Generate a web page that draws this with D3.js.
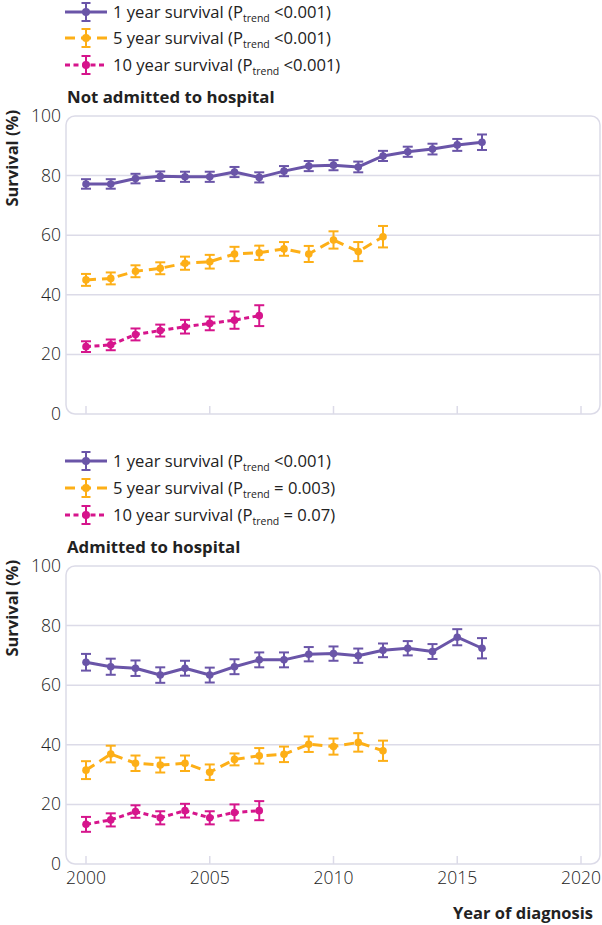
<!DOCTYPE html>
<html><head><meta charset="utf-8">
<script src="https://cdn.jsdelivr.net/npm/d3@7"></script>
<style>body{margin:0;background:#fff}svg{display:block}</style>
</head><body>
<svg id="c" width="602" height="925"></svg>
<script>
// ---- data ----
const years = [2000,2001,2002,2003,2004,2005,2006,2007,2008,2009,2010,2011,2012,2013,2014,2015,2016];
const xTicks = [2000,2005,2010,2015,2020];
const yTicks = [0,20,40,60,80,100];
const seriesNames = ["1 year survival", "5 year survival", "10 year survival"];

// Not admitted to hospital
const notAdm1y   = [77.2,77.2,79.0,79.8,79.6,79.6,81.2,79.4,81.5,83.2,83.5,82.9,86.6,88.0,88.9,90.3,91.2];
const notAdm1yCI = [1.6,1.6,1.6,1.6,1.7,1.7,1.7,1.7,1.7,1.7,1.7,1.8,1.7,1.7,1.8,2.0,2.6];
const notAdm5y   = [45.0,45.5,47.9,48.9,50.6,51.1,53.7,54.1,55.4,53.7,58.4,54.5,59.5];
const notAdm5yCI = [2.0,2.0,2.0,2.0,2.2,2.3,2.4,2.4,2.3,2.7,2.9,3.2,3.6];
const notAdm10y   = [22.6,23.2,26.7,28.0,29.3,30.4,31.5,33.0];
const notAdm10yCI = [1.8,1.8,2.0,2.0,2.3,2.3,2.9,3.5];
const notAdmP = ["<0.001","<0.001","<0.001"];

// Admitted to hospital
const adm1y   = [67.7,66.2,65.7,63.4,65.7,63.4,66.2,68.5,68.5,70.4,70.6,69.9,71.7,72.4,71.3,76.1,72.4];
const adm1yCI = [2.8,2.7,2.6,2.6,2.5,2.5,2.5,2.5,2.5,2.4,2.4,2.4,2.3,2.4,2.5,2.7,3.4];
const adm5y   = [31.5,36.9,33.8,33.2,33.8,30.8,35.1,36.3,36.8,40.2,39.4,40.8,38.0];
const adm5yCI = [3.0,2.8,2.6,2.5,2.6,2.6,2.0,2.6,2.6,2.6,2.7,3.1,3.4];
const adm10y   = [13.3,14.8,17.6,15.5,17.9,15.5,17.3,17.9];
const adm10yCI = [2.5,2.2,2.1,2.2,2.3,2.2,2.7,3.2];
const admP = ["<0.001","= 0.003","= 0.07"];

// ---- styles ----
const colors = ["#6a55a8","#fdaf17","#d6158c"];
const dashes = [null, "10,6", "5,3.5"];
const gridColor = "#dcdbe8";
const FONT = "'Open Sans', Lato, sans-serif";

const svg = d3.select("#c");

const x = d3.scaleLinear().domain([2000,2020]).range([86,581]);

function panel(opt){
  const y = d3.scaleLinear().domain([0,100]).range([opt.y0, opt.y0 - 298]);
  const g = svg.append("g");
  // legend
  opt.legendY.forEach((ly,i)=>{
    const lg = g.append("g");
    lg.append("line").attr("x1",65).attr("x2",107).attr("y1",ly).attr("y2",ly)
      .attr("stroke",colors[i]).attr("stroke-width",3).attr("stroke-dasharray",dashes[i]);
    lg.append("line").attr("x1",86).attr("x2",86).attr("y1",ly-9).attr("y2",ly+9)
      .attr("stroke",colors[i]).attr("stroke-width",2);
    [ly-9,ly+9].forEach(cy=>lg.append("line").attr("x1",81.5).attr("x2",90.5).attr("y1",cy).attr("y2",cy)
      .attr("stroke",colors[i]).attr("stroke-width",2));
    lg.append("circle").attr("cx",86).attr("cy",ly).attr("r",4).attr("fill",colors[i]);
    const t = lg.append("text").attr("x",113).attr("y",ly+6).attr("font-family",FONT)
      .attr("font-size",16.6).attr("fill","#222");
    t.append("tspan").text(seriesNames[i]+" (P");
    t.append("tspan").attr("font-size",10.5).attr("dy",4).text("trend");
    t.append("tspan").attr("dy",-4).text(" "+opt.p[i]+")");
  });
  // title
  g.append("text").attr("x",67).attr("y",opt.titleY).attr("font-family",FONT).attr("font-weight",700)
    .attr("font-size",16.8).attr("fill","#222").text(opt.title);
  // y label
  g.append("text").attr("transform",`translate(18,${opt.y0-304}) rotate(-90)`).attr("text-anchor","end")
    .attr("font-family",FONT).attr("font-weight",700).attr("font-size",16.5).attr("fill","#222").text("Survival (%)");
  // gridlines
  g.selectAll(".grid").data(yTicks.filter(v=>v>0&&v<100)).enter().append("line")
    .attr("x1",66).attr("x2",600).attr("y1",d=>y(d)).attr("y2",d=>y(d))
    .attr("stroke",gridColor).attr("stroke-width",1.5);
  // box
  g.append("rect").attr("x",66).attr("y",y(100)).attr("width",534).attr("height",y(0)-y(100))
    .attr("rx",9).attr("fill","none").attr("stroke",gridColor).attr("stroke-width",1.5);
  // x ticks (inside, upward)
  g.selectAll(".xt").data(xTicks).enter().append("line")
    .attr("x1",d=>x(d)).attr("x2",d=>x(d)).attr("y1",y(0)).attr("y2",y(0)-8)
    .attr("stroke",gridColor).attr("stroke-width",1.5);
  // y tick labels
  g.selectAll(".yl").data(yTicks).enter().append("text")
    .attr("x",61).attr("y",d=>y(d)+6).attr("text-anchor","end")
    .attr("font-family",FONT).attr("font-size",17.5).attr("font-weight",300).attr("fill","#222").text(d=>d);
  if(opt.xLabels){
    g.selectAll(".xl").data(xTicks).enter().append("text")
      .attr("x",d=>x(d)).attr("y",y(0)+20).attr("text-anchor","middle")
      .attr("font-family",FONT).attr("font-size",17.5).attr("font-weight",300).attr("fill","#222").text(d=>d);
  }
  // series
  opt.series.forEach((s,i)=>{
    const pts = s.v.map((v,j)=>({yr:years[j], v, ci:s.ci[j]}));
    const sg = g.append("g");
    sg.append("path").datum(pts)
      .attr("d", d3.line().x(d=>x(d.yr)).y(d=>y(d.v)))
      .attr("fill","none").attr("stroke",colors[i]).attr("stroke-width",3)
      .attr("stroke-dasharray",dashes[i]).attr("stroke-linejoin","round");
    const eb = sg.selectAll(".eb").data(pts).enter().append("g");
    eb.append("line").attr("x1",d=>x(d.yr)).attr("x2",d=>x(d.yr))
      .attr("y1",d=>y(d.v-d.ci)).attr("y2",d=>y(d.v+d.ci)).attr("stroke",colors[i]).attr("stroke-width",2);
    eb.append("line").attr("x1",d=>x(d.yr)-5).attr("x2",d=>x(d.yr)+5)
      .attr("y1",d=>y(d.v+d.ci)).attr("y2",d=>y(d.v+d.ci)).attr("stroke",colors[i]).attr("stroke-width",2);
    eb.append("line").attr("x1",d=>x(d.yr)-5).attr("x2",d=>x(d.yr)+5)
      .attr("y1",d=>y(d.v-d.ci)).attr("y2",d=>y(d.v-d.ci)).attr("stroke",colors[i]).attr("stroke-width",2);
    eb.append("circle").attr("cx",d=>x(d.yr)).attr("cy",d=>y(d.v)).attr("r",3.8).attr("fill",colors[i]);
  });
}

panel({y0:414, legendY:[12,38,65], p:notAdmP, title:"Not admitted to hospital", titleY:103,
  series:[{v:notAdm1y,ci:notAdm1yCI},{v:notAdm5y,ci:notAdm5yCI},{v:notAdm10y,ci:notAdm10yCI}]});
panel({y0:864, legendY:[461,488,515], p:admP, title:"Admitted to hospital", titleY:553, xLabels:true,
  series:[{v:adm1y,ci:adm1yCI},{v:adm5y,ci:adm5yCI},{v:adm10y,ci:adm10yCI}]});

svg.append("text").attr("x",593).attr("y",919).attr("text-anchor","end")
  .attr("font-family",FONT).attr("font-weight",700).attr("font-size",16.5).attr("fill","#222").text("Year of diagnosis");
</script>
</body></html>
